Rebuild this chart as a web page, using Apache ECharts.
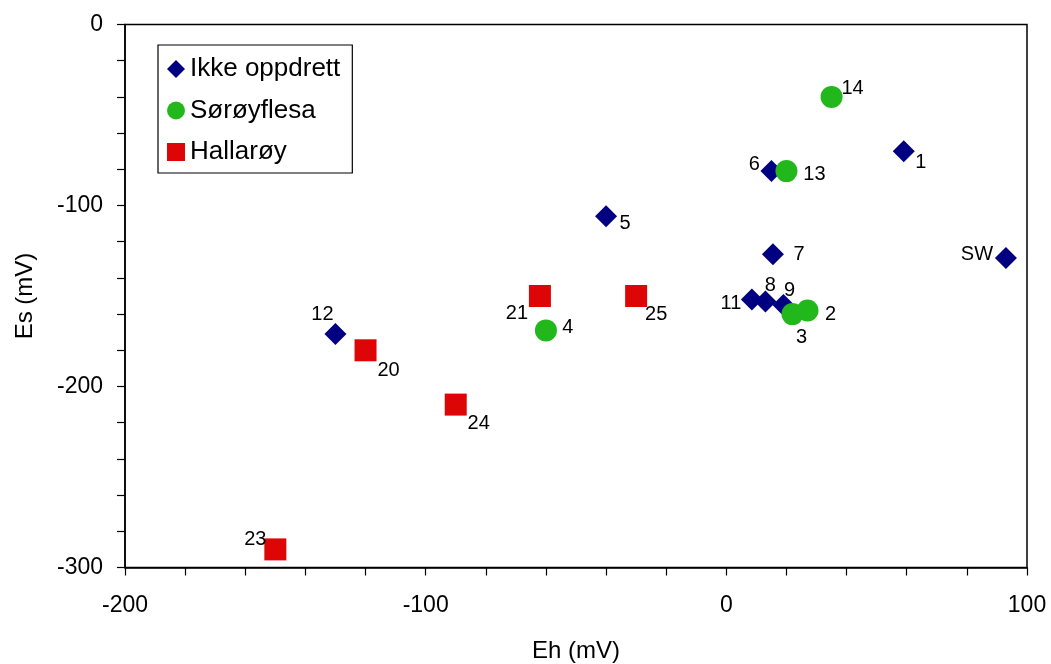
<!DOCTYPE html>
<html>
<head>
<meta charset="utf-8">
<script src="https://cdn.jsdelivr.net/npm/echarts@6/dist/echarts.min.js"></script>
<style>
html,body{margin:0;padding:0;background:#fff;}
#chart{width:1051px;height:664px;}
</style>
</head>
<body>
<div id="chart"></div>
<script>
// ---- data ----
const ikkeNames = ['1', 'SW', '6', '5', '7', '11', '8', '9', '12'];
const ikkeEh    = [59, 93, 15, -40, 15.5, 8.5, 13, 19, -130];
const ikkeEs    = [-70, -129, -81, -106, -127, -152, -153, -155, -171];

const soroyNames = ['14', '13', '2', '3', '4'];
const soroyEh    = [35, 20, 27, 22, -60];
const soroyEs    = [-40, -81, -158, -160, -169];

const hallNames = ['25', '21', '20', '24', '23'];
const hallEh    = [-30, -62, -120, -90, -150];
const hallEs    = [-150, -150, -180, -210, -290];

const xTickLabels = [-200, -100, 0, 100];
const yTickLabels = [0, -100, -200, -300];

const seriesNames = ['Ikke oppdrett', 'Sørøyflesa', 'Hallarøy'];

// ---- label placement (style, px offsets from point centre) ----
const labelOffsets = {
  '1': [17, 11], 'SW': [-29, -4], '6': [-17, -7], '5': [19, 7], '7': [26, 0],
  '11': [-21, 4], '8': [5, -16], '9': [6, -15], '12': [-13, -20],
  '14': [21, -8], '13': [28, 3], '2': [23, 4], '3': [9, 23], '4': [22, -3],
  '25': [20, 18], '21': [-23, 17], '20': [23, 20], '24': [23, 19], '23': [-20, -10]
};

function build(names, xs, ys) {
  return names.map((n, i) => ({
    name: n,
    value: [xs[i], ys[i]],
    label: { offset: labelOffsets[n] || [0, 0] }
  }));
}

const FONT = '"Liberation Sans", Arial, sans-serif';
const pointLabel = {
  show: true,
  position: 'inside',
  formatter: p => p.name,
  color: '#000',
  fontSize: 20,
  fontFamily: FONT
};

const chart = echarts.init(document.getElementById('chart'), null, { renderer: 'canvas' });
chart.setOption({
  backgroundColor: '#fff',
  animation: false,
  grid: {
    left: 125, right: 24, top: 24.5, bottom: 96.5,
    containLabel: false,
    outerBoundsMode: 'none',
    show: true, borderColor: '#000', borderWidth: 1.5, backgroundColor: 'transparent'
  },
  legend: {
    orient: 'vertical',
    left: 158, top: 45,
    padding: [11, 12, 8, 9],
    itemGap: 15.5,
    itemWidth: 18, itemHeight: 18,
    borderColor: '#000', borderWidth: 1.2,
    backgroundColor: '#fff',
    textStyle: { fontSize: 26, color: '#000', fontFamily: FONT },
    data: seriesNames
  },
  xAxis: {
    type: 'value', min: -200, max: 100, interval: 20,
    name: 'Eh (mV)', nameLocation: 'middle', nameGap: 72,
    nameTextStyle: { fontSize: 24, color: '#000', fontFamily: FONT },
    axisLine: { show: true, onZero: false, lineStyle: { color: '#000', width: 1.5 } },
    axisTick: { show: true, length: 8, lineStyle: { color: '#000', width: 1.2 } },
    axisLabel: {
      margin: 27, fontSize: 23, color: '#000', fontFamily: FONT,
      formatter: v => xTickLabels.includes(v) ? String(v) : ''
    },
    splitLine: { show: false }
  },
  yAxis: {
    type: 'value', min: -300, max: 0, interval: 20,
    name: 'Es (mV)', nameLocation: 'middle', nameGap: 88, nameRotate: 90,
    nameTextStyle: { fontSize: 24, color: '#000', fontFamily: FONT },
    axisLine: { show: true, onZero: false, lineStyle: { color: '#000', width: 1.5 } },
    axisTick: { show: true, length: 8, lineStyle: { color: '#000', width: 1.2 } },
    axisLabel: {
      margin: 22, fontSize: 23, color: '#000', fontFamily: FONT,
      formatter: v => yTickLabels.includes(v) ? String(v) : ''
    },
    splitLine: { show: false }
  },
  series: [
    {
      name: seriesNames[0], type: 'scatter', symbol: 'diamond', symbolSize: 22,
      itemStyle: { color: '#000080', opacity: 1 },
      label: pointLabel, z: 2,
      data: build(ikkeNames, ikkeEh, ikkeEs)
    },
    {
      name: seriesNames[1], type: 'scatter', symbol: 'circle', symbolSize: 22,
      itemStyle: { color: '#22b81c', opacity: 1 },
      label: pointLabel, z: 3,
      data: build(soroyNames, soroyEh, soroyEs)
    },
    {
      name: seriesNames[2], type: 'scatter', symbol: 'rect', symbolSize: 22,
      itemStyle: { color: '#dd0505', opacity: 1 },
      label: pointLabel, z: 4,
      data: build(hallNames, hallEh, hallEs)
    }
  ]
});
</script>
</body>
</html>
